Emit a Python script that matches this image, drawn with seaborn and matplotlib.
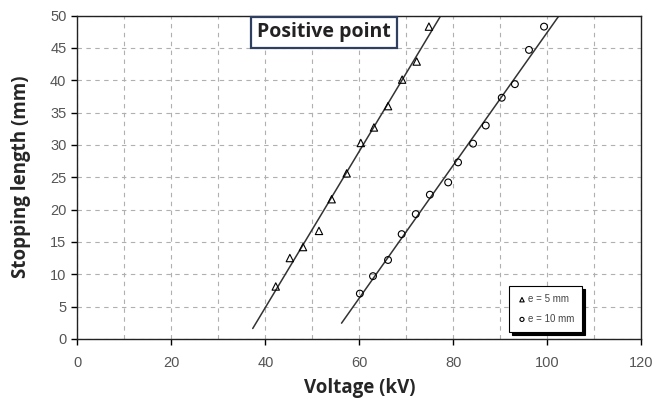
import numpy as np
import pandas as pd
import matplotlib
matplotlib.use('Agg')
import matplotlib.pyplot as plt
import seaborn as sns

# Data
volt_5mm = [42.2, 45.2, 48.0, 51.4, 54.1, 57.3, 60.3, 63.1, 66.1, 69.1, 72.2, 74.8]
stop_5mm = [8.1, 12.5, 14.2, 16.7, 21.6, 25.6, 30.3, 32.7, 36.0, 40.1, 42.9, 48.3]
volt_10mm = [60.1, 62.9, 66.1, 69.0, 72.0, 75.0, 78.9, 81.0, 84.2, 86.9, 90.3, 93.1, 96.1, 99.3]
stop_10mm = [7.0, 9.7, 12.2, 16.2, 19.3, 22.3, 24.2, 27.3, 30.2, 33.0, 37.3, 39.4, 44.7, 48.3]
# x-extent of the trend lines
line_x_5mm = [37.3, 78.0]
line_x_10mm = [56.2, 103.0]

sns.set_style('white')
plt.rcParams['font.family'] = ['Liberation Sans', 'DejaVu Sans']

df5 = pd.DataFrame({'V': volt_5mm, 'L': stop_5mm})
df10 = pd.DataFrame({'V': volt_10mm, 'L': stop_10mm})

# linear fits
p5 = np.polyfit(volt_5mm, stop_5mm, 1)
p10 = np.polyfit(volt_10mm, stop_10mm, 1)
fit5 = pd.DataFrame({'V': line_x_5mm, 'L': np.polyval(p5, line_x_5mm)})
fit10 = pd.DataFrame({'V': line_x_10mm, 'L': np.polyval(p10, line_x_10mm)})

fig = plt.figure(figsize=(6.68, 4.01), dpi=100)
ax = fig.add_axes([0.116, 0.155, 0.844, 0.806])

sns.lineplot(data=fit5, x='V', y='L', color='#333333', lw=1.1, ax=ax)
sns.lineplot(data=fit10, x='V', y='L', color='#333333', lw=1.1, ax=ax)
sns.scatterplot(data=df5, x='V', y='L', marker='^', s=28, facecolors='none',
                edgecolor='black', linewidth=0.8, label='e = 5 mm', ax=ax, zorder=3)
sns.scatterplot(data=df10, x='V', y='L', marker='o', s=24, facecolors='none',
                edgecolor='black', linewidth=0.8, label='e = 10 mm', ax=ax, zorder=3)

ax.set_xlim(0, 120)
ax.set_ylim(0, 50)
ax.set_xticks(np.arange(0, 121, 20))
ax.set_xticks(np.arange(0, 121, 10), minor=True)
ax.set_yticks(np.arange(0, 51, 5))
ax.grid(which='both', axis='x', ls=(0, (4, 4)), color='#b0b0b0', lw=0.8)
ax.grid(which='major', axis='y', ls=(0, (4, 4)), color='#b0b0b0', lw=0.8)
ax.tick_params(which='major', direction='out', length=4, width=1, color='black',
               labelsize=10.5, labelcolor='#555555', bottom=True, left=True)
ax.tick_params(axis='x', which='major', pad=8)
ax.tick_params(axis='y', which='major', pad=4)
ax.tick_params(which='minor', length=0)
for s in ax.spines.values():
    s.set_color('#222222')
    s.set_linewidth(1.0)

ax.set_xlabel('Voltage (kV)', fontsize=13.5, fontweight='bold', family='Open Sans')
ax.set_ylabel('Stopping length (mm)', fontsize=13.5, fontweight='bold', family='Open Sans')
ax.xaxis.set_label_coords(0.5, -0.12)
ax.yaxis.set_label_coords(-0.082, 0.5)

ax.text(0.437, 0.948, 'Positive point', transform=ax.transAxes, ha='center', va='center',
        fontsize=14, fontweight='bold', family='Open Sans', color='#222222',
        bbox=dict(boxstyle='square,pad=0.3', fc='white', ec='#2f3f5f', lw=1.6), zorder=5)

leg = ax.legend(loc='lower left', bbox_to_anchor=(0.766, 0.022), borderaxespad=0,
                fontsize=7, frameon=True, fancybox=False, edgecolor='black',
                shadow={'color': 'black', 'alpha': 1, 'ox': 2, 'oy': -2},
                handletextpad=0.1, handlelength=1.0, borderpad=0.8, labelspacing=1.0,
                markerscale=0.6)
leg.get_frame().set_linewidth(0.8)
for t in leg.get_texts():
    t.set_color('#444444')

fig.savefig('out.png', dpi=100)
